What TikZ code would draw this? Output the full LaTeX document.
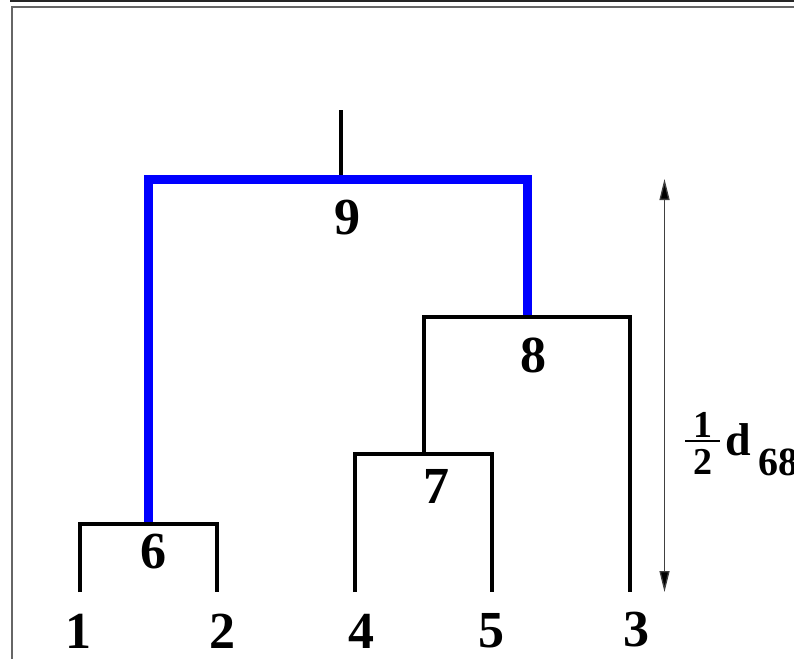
\documentclass[tikz,border=0pt]{standalone}
\usepackage{fontspec}
\setmainfont{Liberation Serif}[BoldFont={Liberation Serif Bold}]
\usetikzlibrary{arrows.meta}
\definecolor{treeblue}{RGB}{0,0,255}
\begin{document}
\begin{tikzpicture}[x=1pt,y=-1pt,
  branch/.style={line width=4pt,black,line join=miter,line cap=butt},
  bluebranch/.style={line width=9pt,treeblue,line join=miter,line cap=butt},
  leaflabel/.style={inner sep=0pt,font=\bfseries\fontsize{52}{60}\selectfont},
  fraclabel/.style={inner sep=0pt,font=\bfseries\fontsize{38}{40}\selectfont},
  dlabel/.style={inner sep=0pt,font=\bfseries\fontsize{46}{50}\selectfont},
  sublabel/.style={inner sep=0pt,font=\bfseries\fontsize{40}{44}\selectfont},
  frameline/.style={line width=2pt,black!60},
  dimarrow/.style={line width=1.3pt,black!75,{Triangle[length=21pt,width=10pt,fill=black]}-{Triangle[length=21pt,width=10pt,fill=black]}}]
\useasboundingbox (0,0) rectangle (794,659);
% frame
\coordinate (fa) at (10,1);
\coordinate (fb) at (794,1);
\coordinate (fc) at (794,7);
\coordinate (fd) at (11.5,7);
\coordinate (fe) at (11.5,659);
\draw[frameline,black!85] (fa) -- (fb);
\draw[frameline] (fc) -- (fd) -- (fe);
% leaves (bottom ends)
\coordinate (b1) at (80,592);
\coordinate (b2) at (217,592);
\coordinate (b4) at (355,592);
\coordinate (b5) at (492,592);
\coordinate (b3) at (630,592);
% junction corners
\coordinate (c6l) at (80,524);
\coordinate (c6r) at (217,524);
\coordinate (c6) at (148,524);
\coordinate (c7l) at (355,454);
\coordinate (c7r) at (492,454);
\coordinate (c7) at (424,454);
\coordinate (c8l) at (424,317);
\coordinate (c8r) at (630,317);
\coordinate (c8) at (527,317);
\coordinate (c9l) at (148,179);
\coordinate (c9r) at (527,179);
\coordinate (c9) at (341,179);
\coordinate (top) at (341,110);
% root stem
\draw[branch] (top) -- (c9);
% blue link 9
\draw[bluebranch] (c6) -- (c9l) -- (c9r) -- (c8);
% black branches
\draw[branch] (b1) -- (c6l) -- (c6r) -- (b2);
\draw[branch] (b4) -- (c7l) -- (c7r) -- (b5);
\draw[branch] (c7) -- (c8l) -- (c8r) -- (b3);
% labels
\node[leaflabel] (l1) at (78,631) {1};
\node[leaflabel] (l2) at (222,631) {2};
\node[leaflabel] (l4) at (361,631) {4};
\node[leaflabel] (l5) at (491,631) {5};
\node[leaflabel] (l3) at (636,630) {3};
\node[leaflabel] (l6) at (153,552) {6};
\node[leaflabel] (l7) at (436,486) {7};
\node[leaflabel] (l8) at (533,355) {8};
\node[leaflabel] (l9) at (347,218) {9};
% dimension arrow
\coordinate (at) at (664.5,179);
\coordinate (ab) at (664.5,592);
\draw[dimarrow] (at) -- (ab);
% half d68 label
\node[fraclabel] (fn) at (702.5,424.5) {1};
\node[fraclabel] (fdn) at (702.5,461.5) {2};
\coordinate (fbl) at (685,441);
\coordinate (fbr) at (720,441);
\draw[line width=1.3pt] (fbl) -- (fbr);
\node[dlabel,anchor=base west] (dd) at (725,455) {d};
\node[sublabel,anchor=base west] (sub) at (758,475) {68};
\end{tikzpicture}
\end{document}
